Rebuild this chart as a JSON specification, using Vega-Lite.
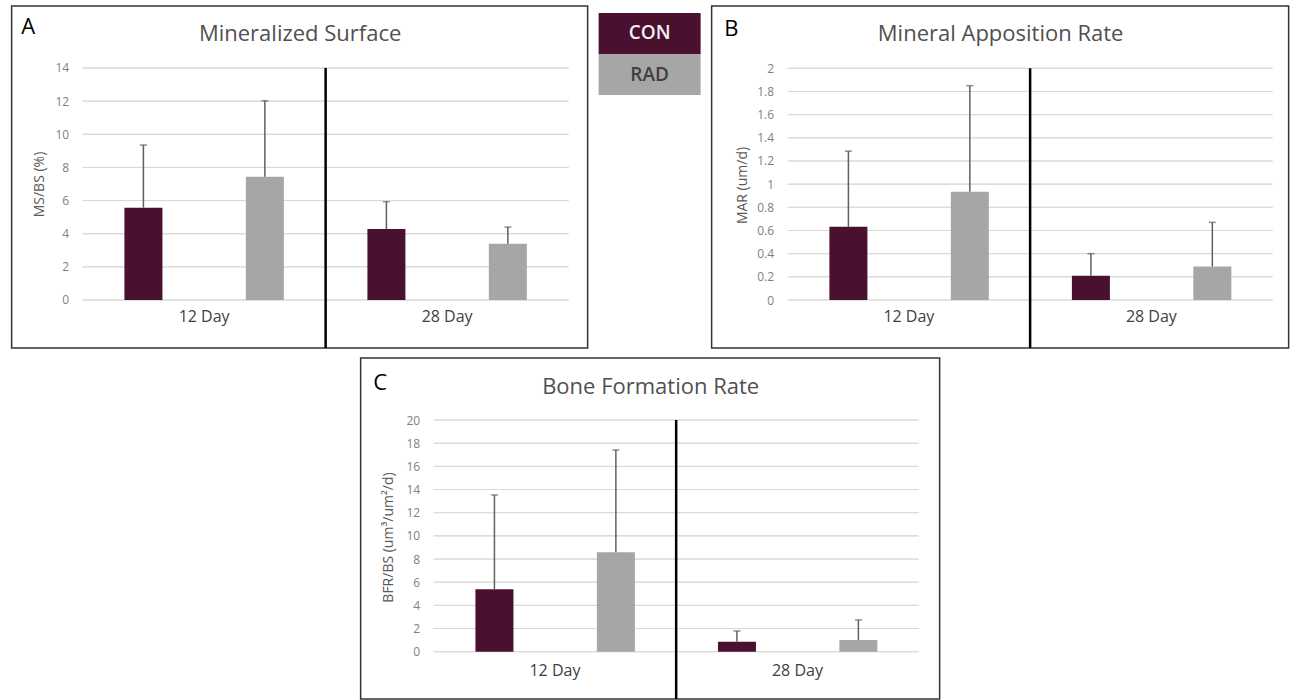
{
  "$schema": "https://vega.github.io/schema/vega-lite/v6.json",
  "padding": {"left": 10.5, "top": 5, "right": 0, "bottom": 0},
  "background": "white",
  "config": {
    "font": "Open Sans",
    "axis": {"labelFont": "Open Sans", "titleFont": "Open Sans"},
    "text": {"font": "Open Sans"}
  },
  "datasets": {
    "msbs": [
      {"day": "12 Day", "group": "CON", "mean": 5.57, "upper": 9.35},
      {"day": "12 Day", "group": "RAD", "mean": 7.44, "upper": 12.03},
      {"day": "28 Day", "group": "CON", "mean": 4.28, "upper": 5.93},
      {"day": "28 Day", "group": "RAD", "mean": 3.40, "upper": 4.40}
    ],
    "mar": [
      {"day": "12 Day", "group": "CON", "mean": 0.632, "upper": 1.285},
      {"day": "12 Day", "group": "RAD", "mean": 0.934, "upper": 1.85},
      {"day": "28 Day", "group": "CON", "mean": 0.21, "upper": 0.40},
      {"day": "28 Day", "group": "RAD", "mean": 0.29, "upper": 0.67}
    ],
    "bfr": [
      {"day": "12 Day", "group": "CON", "mean": 5.39, "upper": 13.53},
      {"day": "12 Day", "group": "RAD", "mean": 8.58, "upper": 17.41},
      {"day": "28 Day", "group": "CON", "mean": 0.86, "upper": 1.79},
      {"day": "28 Day", "group": "RAD", "mean": 1.01, "upper": 2.74}
    ],
    "gA": [
      {"day": ["12 Day", "28 Day"], "v": 0}, {"day": ["12 Day", "28 Day"], "v": 2},
      {"day": ["12 Day", "28 Day"], "v": 4}, {"day": ["12 Day", "28 Day"], "v": 6},
      {"day": ["12 Day", "28 Day"], "v": 8}, {"day": ["12 Day", "28 Day"], "v": 10},
      {"day": ["12 Day", "28 Day"], "v": 12}, {"day": ["12 Day", "28 Day"], "v": 14}
    ],
    "gB": [
      {"day": ["12 Day", "28 Day"], "v": 0}, {"day": ["12 Day", "28 Day"], "v": 0.2},
      {"day": ["12 Day", "28 Day"], "v": 0.4}, {"day": ["12 Day", "28 Day"], "v": 0.6},
      {"day": ["12 Day", "28 Day"], "v": 0.8}, {"day": ["12 Day", "28 Day"], "v": 1},
      {"day": ["12 Day", "28 Day"], "v": 1.2}, {"day": ["12 Day", "28 Day"], "v": 1.4},
      {"day": ["12 Day", "28 Day"], "v": 1.6}, {"day": ["12 Day", "28 Day"], "v": 1.8},
      {"day": ["12 Day", "28 Day"], "v": 2}
    ],
    "gC": [
      {"day": ["12 Day", "28 Day"], "v": 0}, {"day": ["12 Day", "28 Day"], "v": 2},
      {"day": ["12 Day", "28 Day"], "v": 4}, {"day": ["12 Day", "28 Day"], "v": 6},
      {"day": ["12 Day", "28 Day"], "v": 8}, {"day": ["12 Day", "28 Day"], "v": 10},
      {"day": ["12 Day", "28 Day"], "v": 12}, {"day": ["12 Day", "28 Day"], "v": 14},
      {"day": ["12 Day", "28 Day"], "v": 16}, {"day": ["12 Day", "28 Day"], "v": 18},
      {"day": ["12 Day", "28 Day"], "v": 20}
    ],
    "legend": [{"group": "CON"}, {"group": "RAD"}]
  },
  "vconcat": [
    {
      "hconcat": [
        {
          "width": 576, "height": 342,
          "view": {"stroke": "#333333", "strokeWidth": 1.5},
          "resolve": {"axis": {"x": "independent", "y": "independent"}},
          "layer": [
            {
              "data": {"name": "gA"},
              "transform": [{"flatten": ["day"]}],
              "mark": {"type": "rect", "fill": "transparent", "stroke": "#d9d9d9", "strokeWidth": 1},
              "encoding": {
                "x": {"field": "day", "type": "nominal", "scale": {"domain": ["12 Day", "28 Day"], "paddingInner": 0, "paddingOuter": 0.1852, "align": 0.789},
                  "axis": {"orient": "top", "labels": false, "ticks": false, "domain": false, "grid": false, "title": "Mineralized Surface", "titleX": 288, "titleY": 27, "titleAlign": "center", "titleBaseline": "middle", "titleFontSize": 22, "titleFontWeight": "normal", "titleColor": "#505050"}},
                "y": {"field": "v", "type": "quantitative", "scale": {"domain": [-2.897, 17.741], "nice": false, "zero": false},
                  "axis": {"orient": "left", "values": [0, 2, 4, 6, 8, 10, 12, 14], "offset": -57, "labelPadding": 0, "ticks": false, "domain": false, "grid": false, "labelFontSize": 12, "labelColor": "#7f7f7f", "title": "MS/BS (%)", "titleX": -29, "titleY": 178, "titleBaseline": "middle", "titleAlign": "center", "titleFontSize": 14, "titleFontWeight": "normal", "titleColor": "#595959"}},
                "y2": {"field": "v"}
              }
            },
            {
              "data": {"name": "msbs"},
              "mark": {"type": "bar"},
              "encoding": {
                "x": {"field": "day", "type": "nominal", "scale": {"domain": ["12 Day", "28 Day"], "paddingInner": 0, "paddingOuter": 0.1852, "align": 0.789},
                  "axis": {"orient": "bottom", "offset": -31.3, "ticks": false, "domain": false, "grid": false, "labelPadding": 0, "labelBaseline": "middle", "labelAngle": 0, "labelFontSize": 16, "labelColor": "#404040", "title": "A", "titleX": 9, "titleY": -290.7, "titleAlign": "left", "titleBaseline": "middle", "titleFontSize": 22, "titleFontWeight": "normal", "titleColor": "#000000"}},
                "xOffset": {"field": "group", "type": "nominal", "scale": {"domain": ["CON", "RAD"], "paddingInner": 0.687, "paddingOuter": 0.344}},
                "y": {"field": "mean", "type": "quantitative", "scale": {"domain": [-2.897, 17.741], "nice": false, "zero": false}, "axis": null},
                "color": {"field": "group", "type": "nominal", "scale": {"domain": ["CON", "RAD"], "range": ["#4a1030", "#a6a6a6"]}, "legend": null}
              }
            },
            {
              "data": {"name": "msbs"},
              "mark": {"type": "rule", "color": "#606060", "strokeWidth": 1.5},
              "encoding": {
                "x": {"field": "day", "type": "nominal", "axis": null},
                "xOffset": {"field": "group", "type": "nominal"},
                "y": {"field": "mean", "type": "quantitative", "axis": null},
                "y2": {"field": "upper"}
              }
            },
            {
              "data": {"name": "msbs"},
              "mark": {"type": "tick", "color": "#606060", "thickness": 1.5, "size": 7},
              "encoding": {
                "x": {"field": "day", "type": "nominal", "axis": null},
                "xOffset": {"field": "group", "type": "nominal"},
                "y": {"field": "upper", "type": "quantitative", "axis": null}
              }
            },
            {
              "data": {"values": [{}]},
              "mark": {"type": "rule", "color": "#000000", "strokeWidth": 2.5},
              "encoding": {
                "x": {"datum": "28 Day", "type": "nominal", "bandPosition": 0, "axis": null},
                "y": {"datum": 14, "type": "quantitative", "axis": null},
                "y2": {"datum": -2.897}
              }
            }
          ]
        },
        {
          "width": 102, "height": 96,
          "view": {"stroke": null},
          "data": {"name": "legend"},
          "layer": [
            {
              "mark": {"type": "rect"},
              "encoding": {
                "y": {"field": "group", "type": "nominal", "scale": {"domain": ["CON", "RAD"], "paddingInner": 0, "paddingOuter": 0.1707, "align": 0.5}, "axis": null},
                "color": {"field": "group", "type": "nominal", "scale": {"domain": ["CON", "RAD"], "range": ["#4a1030", "#a6a6a6"]}, "legend": null}
              }
            },
            {
              "mark": {"type": "text", "fontSize": 19, "fontWeight": 600},
              "encoding": {
                "y": {"field": "group", "type": "nominal", "axis": null},
                "text": {"field": "group"},
                "color": {"condition": {"test": "datum.group === 'CON'", "value": "#f4eef1"}, "value": "#404040"}
              }
            }
          ]
        },
        {
          "width": 577, "height": 342,
          "view": {"stroke": "#333333", "strokeWidth": 1.5},
          "resolve": {"axis": {"x": "independent", "y": "independent"}},
          "layer": [
            {
              "data": {"name": "gB"},
              "transform": [{"flatten": ["day"]}],
              "mark": {"type": "rect", "fill": "transparent", "stroke": "#d9d9d9", "strokeWidth": 1},
              "encoding": {
                "x": {"field": "day", "type": "nominal", "scale": {"domain": ["12 Day", "28 Day"], "paddingInner": 0, "paddingOuter": 0.1897, "align": 0.826},
                  "axis": {"orient": "top", "labels": false, "ticks": false, "domain": false, "grid": false, "title": "Mineral Apposition Rate", "titleX": 288.5, "titleY": 27, "titleAlign": "center", "titleBaseline": "middle", "titleFontSize": 22, "titleFontWeight": "normal", "titleColor": "#505050"}},
                "y": {"field": "v", "type": "quantitative", "scale": {"domain": [-0.4143, 2.5378], "nice": false, "zero": false},
                  "axis": {"orient": "left", "values": [0, 0.2, 0.4, 0.6, 0.8, 1, 1.2, 1.4, 1.6, 1.8, 2], "format": "~g", "offset": -62, "labelPadding": 0, "ticks": false, "domain": false, "grid": false, "labelFontSize": 12, "labelColor": "#7f7f7f", "title": "MAR (um/d)", "titleX": -31, "titleY": 179, "titleBaseline": "middle", "titleAlign": "center", "titleFontSize": 14, "titleFontWeight": "normal", "titleColor": "#595959"}},
                "y2": {"field": "v"}
              }
            },
            {
              "data": {"name": "mar"},
              "mark": {"type": "bar"},
              "encoding": {
                "x": {"field": "day", "type": "nominal", "scale": {"domain": ["12 Day", "28 Day"], "paddingInner": 0, "paddingOuter": 0.1897, "align": 0.826},
                  "axis": {"orient": "bottom", "offset": -31.3, "ticks": false, "domain": false, "grid": false, "labelPadding": 0, "labelBaseline": "middle", "labelAngle": 0, "labelFontSize": 16, "labelColor": "#404040", "title": "B", "titleX": 12, "titleY": -288.7, "titleAlign": "left", "titleBaseline": "middle", "titleFontSize": 22, "titleFontWeight": "normal", "titleColor": "#000000"}},
                "xOffset": {"field": "group", "type": "nominal", "scale": {"domain": ["CON", "RAD"], "paddingInner": 0.687, "paddingOuter": 0.344}},
                "y": {"field": "mean", "type": "quantitative", "scale": {"domain": [-0.4143, 2.5378], "nice": false, "zero": false}, "axis": null},
                "color": {"field": "group", "type": "nominal", "scale": {"domain": ["CON", "RAD"], "range": ["#4a1030", "#a6a6a6"]}, "legend": null}
              }
            },
            {
              "data": {"name": "mar"},
              "mark": {"type": "rule", "color": "#606060", "strokeWidth": 1.5},
              "encoding": {
                "x": {"field": "day", "type": "nominal", "axis": null},
                "xOffset": {"field": "group", "type": "nominal"},
                "y": {"field": "mean", "type": "quantitative", "axis": null},
                "y2": {"field": "upper"}
              }
            },
            {
              "data": {"name": "mar"},
              "mark": {"type": "tick", "color": "#606060", "thickness": 1.5, "size": 7},
              "encoding": {
                "x": {"field": "day", "type": "nominal", "axis": null},
                "xOffset": {"field": "group", "type": "nominal"},
                "y": {"field": "upper", "type": "quantitative", "axis": null}
              }
            },
            {
              "data": {"values": [{}]},
              "mark": {"type": "rule", "color": "#000000", "strokeWidth": 2.5},
              "encoding": {
                "x": {"datum": "28 Day", "type": "nominal", "bandPosition": 0, "axis": null},
                "y": {"datum": 2, "type": "quantitative", "axis": null},
                "y2": {"datum": -0.4143}
              }
            }
          ]
        }
      ],
      "spacing": 10
    },
    {
      "width": 579, "height": 341,
      "view": {"stroke": "#333333", "strokeWidth": 1.5},
      "resolve": {"axis": {"x": "independent", "y": "independent"}},
      "layer": [
        {
          "data": {"name": "gC"},
          "transform": [{"flatten": ["day"]}],
          "mark": {"type": "rect", "fill": "transparent", "stroke": "#d9d9d9", "strokeWidth": 1},
          "encoding": {
            "x": {"field": "day", "type": "nominal", "scale": {"domain": ["12 Day", "28 Day"], "paddingInner": 0, "paddingOuter": 0.1938, "align": 0.777},
              "axis": {"orient": "top", "labels": false, "ticks": false, "domain": false, "grid": false, "title": "Bone Formation Rate", "titleX": 289.5, "titleY": 28, "titleAlign": "center", "titleBaseline": "middle", "titleFontSize": 22, "titleFontWeight": "normal", "titleColor": "#505050"}},
            "y": {"field": "v", "type": "quantitative", "scale": {"domain": [-4.083, 25.352], "nice": false, "zero": false},
              "axis": {"orient": "left", "values": [0, 2, 4, 6, 8, 10, 12, 14, 16, 18, 20], "offset": -59, "labelPadding": 0, "ticks": false, "domain": false, "grid": false, "labelFontSize": 12, "labelColor": "#7f7f7f", "title": "BFR/BS (um³/um²/d)", "titleX": -31, "titleY": 179, "titleBaseline": "middle", "titleAlign": "center", "titleFontSize": 14, "titleFontWeight": "normal", "titleColor": "#595959"}},
            "y2": {"field": "v"}
          }
        },
        {
          "data": {"name": "bfr"},
          "mark": {"type": "bar"},
          "encoding": {
            "x": {"field": "day", "type": "nominal", "scale": {"domain": ["12 Day", "28 Day"], "paddingInner": 0, "paddingOuter": 0.1938, "align": 0.777},
              "axis": {"orient": "bottom", "offset": -29, "ticks": false, "domain": false, "grid": false, "labelPadding": 0, "labelBaseline": "middle", "labelAngle": 0, "labelFontSize": 16, "labelColor": "#404040", "title": "C", "titleX": 12, "titleY": -288, "titleAlign": "left", "titleBaseline": "middle", "titleFontSize": 22, "titleFontWeight": "normal", "titleColor": "#000000"}},
            "xOffset": {"field": "group", "type": "nominal", "scale": {"domain": ["CON", "RAD"], "paddingInner": 0.687, "paddingOuter": 0.344}},
            "y": {"field": "mean", "type": "quantitative", "scale": {"domain": [-4.083, 25.352], "nice": false, "zero": false}, "axis": null},
            "color": {"field": "group", "type": "nominal", "scale": {"domain": ["CON", "RAD"], "range": ["#4a1030", "#a6a6a6"]}, "legend": null}
          }
        },
        {
          "data": {"name": "bfr"},
          "mark": {"type": "rule", "color": "#606060", "strokeWidth": 1.5},
          "encoding": {
            "x": {"field": "day", "type": "nominal", "axis": null},
            "xOffset": {"field": "group", "type": "nominal"},
            "y": {"field": "mean", "type": "quantitative", "axis": null},
            "y2": {"field": "upper"}
          }
        },
        {
          "data": {"name": "bfr"},
          "mark": {"type": "tick", "color": "#606060", "thickness": 1.5, "size": 7},
          "encoding": {
            "x": {"field": "day", "type": "nominal", "axis": null},
            "xOffset": {"field": "group", "type": "nominal"},
            "y": {"field": "upper", "type": "quantitative", "axis": null}
          }
        },
        {
          "data": {"values": [{}]},
          "mark": {"type": "rule", "color": "#000000", "strokeWidth": 2.5},
          "encoding": {
            "x": {"datum": "28 Day", "type": "nominal", "bandPosition": 0, "axis": null},
            "y": {"datum": 20, "type": "quantitative", "axis": null},
            "y2": {"datum": -4.083}
          }
        }
      ]
    }
  ],
  "spacing": 7,
  "center": true
}
